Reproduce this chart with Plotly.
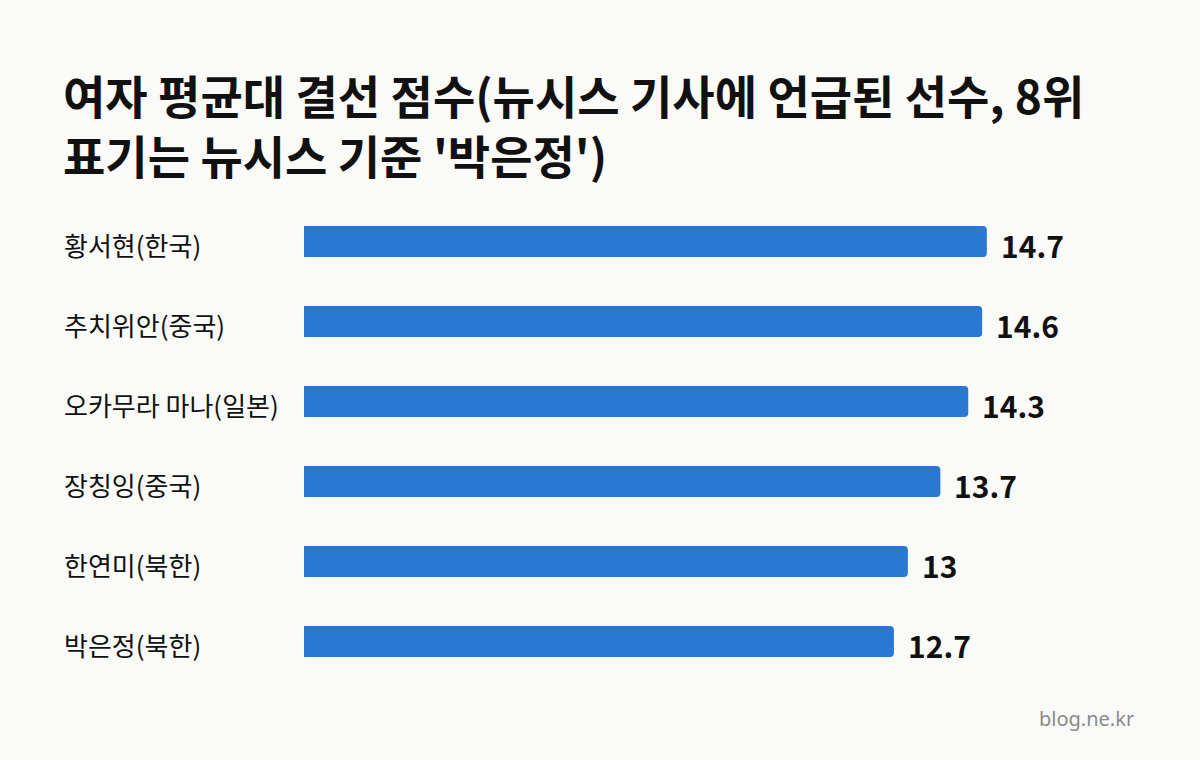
import plotly.graph_objects as go

# data
players = ['황서현(한국)', '추치위안(중국)', '오카무라 마나(일본)', '장칭잉(중국)', '한연미(북한)', '박은정(북한)']
scores = [14.7, 14.6, 14.3, 13.7, 13, 12.7]
score_text = ['14.7', '14.6', '14.3', '13.7', '13', '12.7']

title_text = "여자 평균대 결선 점수(뉴시스 기사에 언급된 선수, 8위<br>표기는 뉴시스 기준 '박은정')"

W, H = 1200, 760
bg = '#FAFAF8'
bar_color = '#2A77D4'
font_kr = 'Noto Sans CJK KR'

fig = go.Figure()
fig.add_trace(go.Bar(
    x=scores, y=players, orientation='h',
    marker=dict(color=bar_color, line=dict(width=0), cornerradius=4),
    width=0.39, hoverinfo='skip'
))

# name labels on the left
for name in players:
    fig.add_annotation(x=62 / W, xref='paper', y=name, yref='y',
                       text=name, showarrow=False, xanchor='left', yshift=-3,
                       font=dict(family=font_kr, size=26, color='#111111'))

# value labels at bar ends
for name, val, txt in zip(players, scores, score_text):
    fig.add_annotation(x=val, y=name, text='<b>' + txt + '</b>', showarrow=False,
                       xanchor='left', xshift=12, yshift=-3,
                       font=dict(family=font_kr, size=30, color='#111111'))

# watermark
fig.add_annotation(x=1136 / W, xref='paper', y=1 - 718 / H, yref='paper',
                   text='blog.ne.kr', showarrow=False, xanchor='right', yanchor='middle',
                   font=dict(family='Noto Sans', size=20, color='#8A8A8A'))

fig.update_layout(
    width=W, height=H,
    paper_bgcolor=bg, plot_bgcolor=bg,
    margin=dict(l=0, r=0, t=0, b=0),
    showlegend=False,
    title=dict(text='<b>' + title_text + '</b>', x=63 / W, xanchor='left',
               y=1 - 114 / H, yanchor='top',
               font=dict(family=font_kr, size=46, color='#111111')),
    xaxis=dict(domain=[304 / W, 1], range=[0, 896 / 46.45], visible=False, fixedrange=True),
    yaxis=dict(domain=[1 - 681.5 / H, 1 - 201.5 / H], range=[5.5, -0.5],
               visible=False, fixedrange=True),
)

# drop the default page margin so the figure sits at the window corner
fig.write_html("out.html", config={'displayModeBar': False},
               post_script="document.body.style.margin = '0';")
